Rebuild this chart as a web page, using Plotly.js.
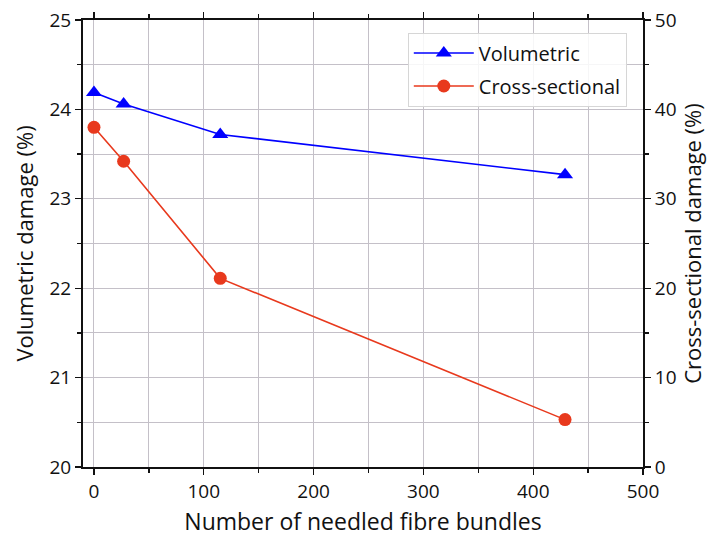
<!DOCTYPE html>
<html>
<head>
<meta charset="utf-8">
<script src="https://cdn.plot.ly/plotly-3.0.1.min.js"></script>
<style>html,body{margin:0;padding:0;background:#fff;}</style>
</head>
<body>
<div id="chart" style="width:711px;height:537px;"></div>
<script>
const bundles = [0, 27, 115, 429];
const volumetric = [24.19, 24.06, 23.72, 23.27];
const crossSectional = [38.0, 34.2, 21.1, 5.3];

const FONT = '"Open Sans", "DejaVu Sans", sans-serif';
const gridColor = '#c4c0c8';

const traces = [
  {
    x: bundles, y: volumetric, name: 'Volumetric', type: 'scatter', mode: 'lines+markers',
    line: {color: '#0000ff', width: 1.6},
    marker: {symbol: 'triangle-up', size: 14, color: '#0000ff'},
    yaxis: 'y', legendgroup: 'a'
  },
  {
    x: bundles, y: crossSectional, name: 'Cross-sectional', type: 'scatter', mode: 'lines+markers',
    line: {color: '#e8391d', width: 1.6},
    marker: {symbol: 'circle', size: 13, color: '#e8391d'},
    yaxis: 'y2', legendgroup: 'b'
  }
];

const layout = {
  width: 711, height: 537,
  margin: {l: 83, r: 68, t: 20, b: 70},
  paper_bgcolor: '#ffffff', plot_bgcolor: '#ffffff',
  font: {family: FONT, size: 19, color: '#111'},
  showlegend: true,
  legend: {
    x: 0.58, y: 0.972, xanchor: 'left', yanchor: 'top',
    bgcolor: 'rgba(255,255,255,0.85)', bordercolor: '#d6d6d6', borderwidth: 1,
    font: {family: FONT, size: 20, color: '#111'},
    itemwidth: 60,
    tracegroupgap: 4
  },
  xaxis: {
    range: [-10, 500], tickvals: [0, 100, 200, 300, 400, 500],
    showgrid: true, gridcolor: gridColor, gridwidth: 1,
    ticks: 'outside', ticklen: 6, tickwidth: 1.3, tickcolor: '#111',
    minor: {dtick: 50, tick0: 0, showgrid: true, gridcolor: gridColor, gridwidth: 1, ticks: 'outside', ticklen: 4, tickcolor: '#111'},
    showline: true, linecolor: '#111', linewidth: 2, mirror: 'ticks',
    zeroline: false,
    tickfont: {size: 19, family: FONT},
    title: {text: 'Number of needled fibre bundles', font: {size: 23, family: FONT}, standoff: 11}
  },
  yaxis: {
    range: [20, 25], tickvals: [20, 21, 22, 23, 24, 25],
    showgrid: true, gridcolor: gridColor, gridwidth: 1,
    ticks: 'outside', ticklen: 6, tickwidth: 1.3, tickcolor: '#111',
    minor: {dtick: 0.5, tick0: 20, showgrid: true, gridcolor: gridColor, gridwidth: 1, ticks: 'outside', ticklen: 4, tickcolor: '#111'},
    showline: true, linecolor: '#111', linewidth: 2,
    zeroline: false,
    tickfont: {size: 19, family: FONT},
    title: {text: 'Volumetric damage (%)', font: {size: 22, family: FONT}, standoff: 10}
  },
  yaxis2: {
    range: [0, 50], tickvals: [0, 10, 20, 30, 40, 50],
    overlaying: 'y', side: 'right', showgrid: false,
    ticks: 'outside', ticklen: 6, tickwidth: 1.3, tickcolor: '#111',
    minor: {dtick: 5, tick0: 0, showgrid: false, ticks: 'outside', ticklen: 4, tickcolor: '#111'},
    showline: true, linecolor: '#111', linewidth: 2,
    zeroline: false,
    tickfont: {size: 19, family: FONT},
    title: {text: 'Cross-sectional damage (%)', font: {size: 22, family: FONT}, standoff: 8}
  }
};

Plotly.newPlot('chart', traces, layout, {staticPlot: true, displayModeBar: false});
</script>
</body>
</html>
